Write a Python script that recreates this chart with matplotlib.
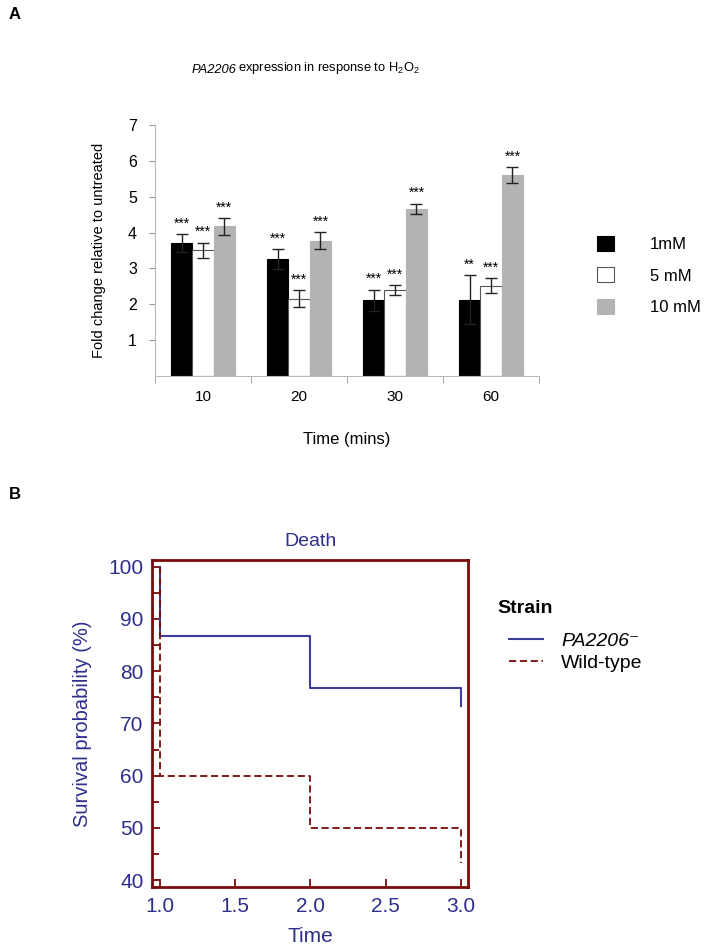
import numpy as np
import matplotlib
matplotlib.use("Agg")
import matplotlib.pyplot as plt

plt.rcParams["font.family"] = ["Liberation Sans", "DejaVu Sans"]
plt.rcParams["mathtext.fontset"] = "custom"
plt.rcParams["mathtext.rm"] = "Liberation Sans"
plt.rcParams["mathtext.it"] = "Liberation Sans:italic"

# ---- panel A data: fold change of PA2206 expression ----
time_points = ["10", "20", "30", "60"]
dose_labels = ["1mM", "5 mM", "10 mM"]
fold_1mM = [3.71, 3.26, 2.11, 2.13]
fold_5mM = [3.51, 2.15, 2.39, 2.52]
fold_10mM = [4.17, 3.77, 4.67, 5.60]
err_1mM = [0.25, 0.27, 0.30, 0.68]
err_5mM = [0.21, 0.24, 0.14, 0.21]
err_10mM = [0.23, 0.24, 0.14, 0.23]
stars_1mM = ["***", "***", "***", "**"]
stars_5mM = ["***", "***", "***", "***"]
stars_10mM = ["***", "***", "***", "***"]

# ---- panel B data: survival curves (step points) ----
km_time = [1.0, 1.0, 2.0, 3.0, 3.0]
surv_mutant = [100, 86.7, 76.7, 76.7, 73.3]
surv_wildtype = [100, 60, 50, 50, 43.3]
strain_labels = ["PA2206\u207b", "Wild-type"]

NAVY = "#2e2e8c"
DARKRED = "#7a0a0a"

fig = plt.figure(figsize=(7.06, 9.47), dpi=100)

# ================= panel A =================
axA = fig.add_axes([0.2195, 0.603, 0.544, 0.265])
x = np.arange(len(time_points))
w = 0.223
series = [fold_1mM, fold_5mM, fold_10mM]
errs = [err_1mM, err_5mM, err_10mM]
stars = [stars_1mM, stars_5mM, stars_10mM]
faces = ["black", "white", "#b3b3b3"]
edges = ["black", "#555555", "#b3b3b3"]
handles = []
for i in range(3):
    pos = x + (i - 1) * w
    b = axA.bar(pos, series[i], w, color=faces[i], edgecolor=edges[i], linewidth=0.8,
                yerr=errs[i], capsize=4, error_kw=dict(ecolor="#222222", elinewidth=1, capthick=1),
                label=dose_labels[i])
    handles.append(b)
    for p, v, e, s in zip(pos, series[i], errs[i], stars[i]):
        axA.text(p, v + e + 0.1, s, ha="center", va="bottom", fontsize=10)

axA.set_xlim(-0.5, len(time_points) - 0.5)
axA.set_ylim(0, 7)
axA.set_yticks(range(1, 8))
axA.set_xticks(x)
axA.set_xticklabels(time_points, fontsize=11)
axA.set_xticks(np.arange(-0.5, len(time_points)), minor=True)
axA.tick_params(axis="x", which="major", length=0, pad=10)
axA.tick_params(axis="x", which="minor", length=5, color="#999999")
axA.tick_params(axis="y", length=4, color="#999999", labelsize=11.5, pad=9)
for s in ["top", "right"]:
    axA.spines[s].set_visible(False)
axA.spines["left"].set_color("#bbbbbb")
axA.spines["bottom"].set_color("#bbbbbb")
axA.set_xlabel("Time (mins)", fontsize=12, labelpad=20)
axA.set_ylabel("Fold change relative to untreated", fontsize=10.5, labelpad=16)

# title: italic gene name followed by the rest
t1 = fig.text(0.272, 0.923, "PA2206", style="italic", ha="left", va="baseline", fontsize=9.3)
axA.annotate("expression in response to H$_2$O$_2$", xy=(1, 0), xycoords=t1,
             xytext=(1.2, 0), textcoords="offset points",
             ha="left", va="bottom", fontsize=9.3, annotation_clip=False)

fig.legend(handles=handles, labels=dose_labels, loc="center left",
           bbox_to_anchor=(0.846, 0.709), frameon=False, fontsize=12,
           borderpad=0, borderaxespad=0,
           handlelength=1.0, handleheight=1.0, handletextpad=2.15, labelspacing=0.9)
fig.text(0.012, 0.985, "A", fontsize=12, fontweight="bold", va="center")

# ================= panel B =================
axB = fig.add_axes([0.2153, 0.0634, 0.4477, 0.3453])
axB.plot(km_time, surv_mutant, drawstyle="steps-post", color="#3d3d9e", lw=1.5,
         label=strain_labels[0])
axB.plot(km_time, surv_wildtype, drawstyle="steps-post", color=DARKRED, lw=1.3,
         ls=(0, (4, 2)), label=strain_labels[1])
axB.set_xlim(0.947, 3.047)
axB.set_ylim(38.7, 101.3)
axB.set_xticks([1.0, 1.5, 2.0, 2.5, 3.0])
axB.set_xticklabels(["1.0", "1.5", "2.0", "2.5", "3.0"])
axB.set_yticks(range(40, 101, 10))
axB.set_yticks(range(45, 100, 10), minor=True)
axB.tick_params(axis="both", which="both", direction="in", color=DARKRED, width=1.3,
                labelcolor=NAVY, labelsize=15)
axB.tick_params(axis="both", which="major", length=6)
axB.tick_params(axis="y", which="minor", length=5)
axB.tick_params(axis="x", which="major", pad=7)
axB.tick_params(axis="y", which="major", pad=6)
for s in axB.spines.values():
    s.set_color(DARKRED)
    s.set_linewidth(2)
axB.set_title("Death", color=NAVY, fontsize=14, pad=10)
axB.set_xlabel("Time", color=NAVY, fontsize=15, labelpad=8)
axB.set_ylabel("Survival probability (%)", color=NAVY, fontsize=14.5, labelpad=12)
lg = fig.legend(handles=axB.get_lines(), labels=strain_labels, loc="center left",
                bbox_to_anchor=(0.721, 0.3115), frameon=False, fontsize=14,
                borderpad=0, borderaxespad=0, handlelength=1.75, handletextpad=0.93,
                labelspacing=0.24)
lg.get_texts()[0].set_style("italic")
fig.text(0.705, 0.357, "Strain", fontsize=14, fontweight="bold", va="center")
fig.text(0.012, 0.478, "B", fontsize=12, fontweight="bold", va="center")

fig.savefig("out.png", dpi=100)
